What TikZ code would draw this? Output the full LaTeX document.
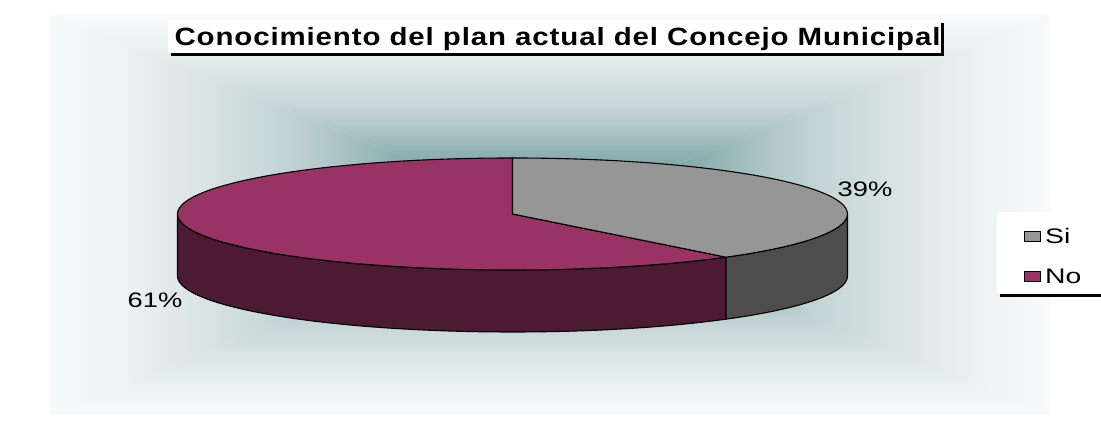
\documentclass[tikz,border=0pt]{standalone}
\usepackage{fontspec}
\setmainfont{Liberation Sans}
\newfontfamily\titlefont[LetterSpace=3]{Liberation Sans}
\usetikzlibrary{shadows}

\definecolor{noTop}{HTML}{993366}
\definecolor{noSide}{HTML}{4C1A33}
\definecolor{siTop}{HTML}{969696}
\definecolor{siSide}{HTML}{4D4D4D}
\definecolor{bgW}{HTML}{F8FAFA}
\definecolor{bgA}{HTML}{ECF1F1}
\definecolor{bgB}{HTML}{DAE4E4}
\definecolor{bgC}{HTML}{C6D6D6}
\definecolor{bgD}{HTML}{B2C8C9}
\definecolor{bgE}{HTML}{8CAFB1}
\definecolor{bgF}{HTML}{6F9C9E}
\definecolor{bgG}{HTML}{5A8C8E}

% ramp from the centre (bottom) to the edge (top)
\pgfdeclareverticalshading{bgramp}{100bp}{color(0bp)=(bgG); color(25bp)=(bgG);
  color(32.5bp)=(bgF); color(40bp)=(bgE); color(47.5bp)=(bgD); color(52.5bp)=(bgC);
  color(60bp)=(bgB); color(67.5bp)=(bgA); color(75bp)=(bgW); color(100bp)=(bgW)}

\begin{document}
\begin{tikzpicture}[x=1pt,y=1pt,
    slice/.style={draw=black, line width=1.1pt, line join=round},
    pct/.style={inner sep=0pt, font=\fontsize{21}{24}\selectfont},
    legtext/.style={inner sep=0pt, anchor=west, font=\fontsize{21}{24}\selectfont},
    legkey/.style={draw=black, line width=0.8pt, minimum width=16pt, minimum height=10pt, inner sep=0pt},
    boxshadow/.style={fill=white, inner sep=0pt,
      drop shadow={opacity=1, fill=black, shadow xshift=3pt, shadow yshift=-3pt}}]
    \useasboundingbox (0,0) rectangle (1101,427);
    \fill[white] (0,0) rectangle (1101,427);

    % Background: shaded from the centre point outwards
    \coordinate (bgc) at (550,212);
    \shade[shading=bgramp] (50,412) -- (1050,412) -- (bgc) -- cycle;
    \shade[shading=bgramp, shading angle=180] (50,12) -- (1050,12) -- (bgc) -- cycle;
    \shade[shading=bgramp, shading angle=90] (50,12) -- (50,412) -- (bgc) -- cycle;
    \shade[shading=bgramp, shading angle=-90] (1050,12) -- (1050,412) -- (bgc) -- cycle;

    % Pie
    \coordinate (c) at (512.5,213);
    \filldraw[slice, fill=noSide] ([shift={(c)}]180:335 and 56)
        arc[start angle=180, end angle=309.6, x radius=335, y radius=56] -- ++(0,-62)
        arc[start angle=309.6, end angle=180, x radius=335, y radius=56] -- cycle;
    \filldraw[slice, fill=siSide] ([shift={(c)}]309.6:335 and 56)
        arc[start angle=309.6, end angle=360, x radius=335, y radius=56] -- ++(0,-62)
        arc[start angle=360, end angle=309.6, x radius=335, y radius=56] -- cycle;
    \filldraw[slice, fill=noTop] (c) -- ([shift={(c)}]90:335 and 56)
        arc[start angle=90, end angle=309.6, x radius=335, y radius=56] -- cycle;
    \filldraw[slice, fill=siTop] (c) -- ([shift={(c)}]309.6:335 and 56)
        arc[start angle=309.6, end angle=450, x radius=335, y radius=56] -- cycle;

    \node[pct] (pctSi) at (865,237.3) {\scalebox{1.3}[1]{39\%}};
    \node[pct] (pctNo) at (155,127) {\scalebox{1.3}[1]{61\%}};

    % Title
    \node[boxshadow, minimum width=773pt, minimum height=33pt] (titlebox) at (554.5,390.5) {};
    \node[inner sep=0pt, anchor=base] (title) at (557.5,381.5)
        {\resizebox{766pt}{\height}{\titlefont\fontsize{25}{28}\selectfont\bfseries Conocimiento del plan actual del Concejo Municipal}};

    % Legend
    \node[boxshadow, minimum width=104pt, minimum height=82pt] (legend) at (1049,174) {};
    \node[legkey, fill=siTop] (keySi) at (1032,191) {};
    \node[legkey, fill=noTop] (keyNo) at (1032,151) {};
    \node[legtext] (labSi) at (1045,191) {\scalebox{1.35}[1]{Si}};
    \node[legtext] (labNo) at (1045,151) {\scalebox{1.35}[1]{No}};
\end{tikzpicture}
\end{document}
